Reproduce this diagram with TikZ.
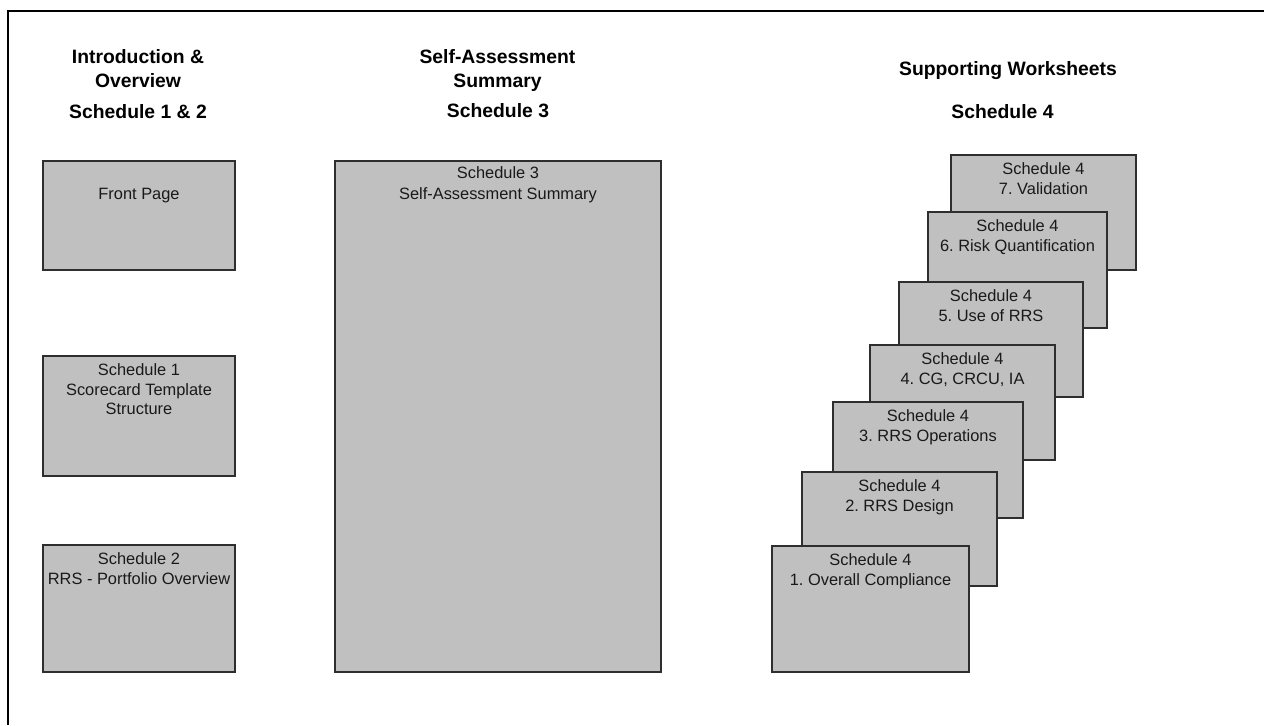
\documentclass[tikz,border=0pt]{standalone}
\usepackage{fontspec}
\setmainfont{Liberation Sans}
\frenchspacing
\definecolor{sheetGray}{HTML}{C0C0C0}
\definecolor{edgeGray}{HTML}{2E2E2E}
\tikzstyle{sheet}=[shape = rectangle, anchor = north west, draw = edgeGray, line width = 1.1pt, fill = sheetGray, inner sep = 0pt, outer sep = 0pt]
\tikzstyle{sheetText}=[anchor = north, align = center, inner xsep = 0pt, inner ysep = 5.6pt, text = black!90, font = \fontsize{12.3}{14.6}\selectfont]
\tikzstyle{headText}=[align = center, inner sep = 0pt, font = \fontsize{14.5}{18}\selectfont\bfseries]

\begin{document}
\begin{tikzpicture}[x = 0.75pt, y = -0.75pt]
\useasboundingbox (0,0) rectangle (1264,725);
\draw[line width = 1.1pt] (8,725) -- (8,11) -- (1264,11);
\node[headText, anchor = north] (introHead) at (138,49) {Introduction \&\\Overview};
\node[headText, anchor = base] (introSched) at (138,118) {Schedule 1 \& 2};
\node[headText, anchor = north] (summaryHead) at (497.5,49) {Self-Assessment\\Summary};
\node[headText, anchor = base] (summarySched) at (498,117) {Schedule 3};
\node[headText, anchor = base] (sheetsHead) at (1008,75) {Supporting Worksheets};
\node[headText, anchor = base] (sheetsSched) at (1002.5,118) {Schedule 4};
\node[sheet, minimum width = 192*0.75pt, minimum height = 109*0.75pt] (front) at (43,161) {};
\node[sheetText, yshift = -14.5pt] (frontText) at (front.north) {Front Page};
\node[sheet, minimum width = 192*0.75pt, minimum height = 120*0.75pt] (s1) at (43,356) {};
\node[sheetText] (s1Text) at (s1.north) {Schedule 1\\Scorecard Template\\Structure};
\node[sheet, minimum width = 192*0.75pt, minimum height = 127*0.75pt] (s2) at (43,545) {};
\node[sheetText] (s2Text) at (s2.north) {Schedule 2\\RRS - Portfolio Overview};
\node[sheet, minimum width = 326*0.75pt, minimum height = 511*0.75pt] (s3) at (335,161) {};
\node[sheetText, inner ysep = 4pt, font = \fontsize{12.3}{16}\selectfont] (s3Text) at (s3.north) {Schedule 3\\Self-Assessment Summary};
\node[sheet, minimum width = 185*0.75pt, minimum height = 115*0.75pt] (w7) at (951,155) {};
\node[sheetText] (w7Text) at (w7.north) {Schedule 4\\7. Validation};
\node[sheet, minimum width = 179*0.75pt, minimum height = 116*0.75pt] (w6) at (928,212) {};
\node[sheetText] (w6Text) at (w6.north) {Schedule 4\\6. Risk Quantification};
\node[sheet, minimum width = 184*0.75pt, minimum height = 115*0.75pt] (w5) at (899,282) {};
\node[sheetText] (w5Text) at (w5.north) {Schedule 4\\5. Use of RRS};
\node[sheet, minimum width = 185*0.75pt, minimum height = 115*0.75pt] (w4) at (870,345) {};
\node[sheetText] (w4Text) at (w4.north) {Schedule 4\\4. CG, CRCU, IA};
\node[sheet, minimum width = 190*0.75pt, minimum height = 116*0.75pt] (w3) at (833,402) {};
\node[sheetText] (w3Text) at (w3.north) {Schedule 4\\3. RRS Operations};
\node[sheet, minimum width = 195*0.75pt, minimum height = 114*0.75pt] (w2) at (802,472) {};
\node[sheetText] (w2Text) at (w2.north) {Schedule 4\\2. RRS Design};
\node[sheet, minimum width = 197*0.75pt, minimum height = 126*0.75pt] (w1) at (772,546) {};
\node[sheetText] (w1Text) at (w1.north) {Schedule 4\\1. Overall Compliance};
\end{tikzpicture}
\end{document}
